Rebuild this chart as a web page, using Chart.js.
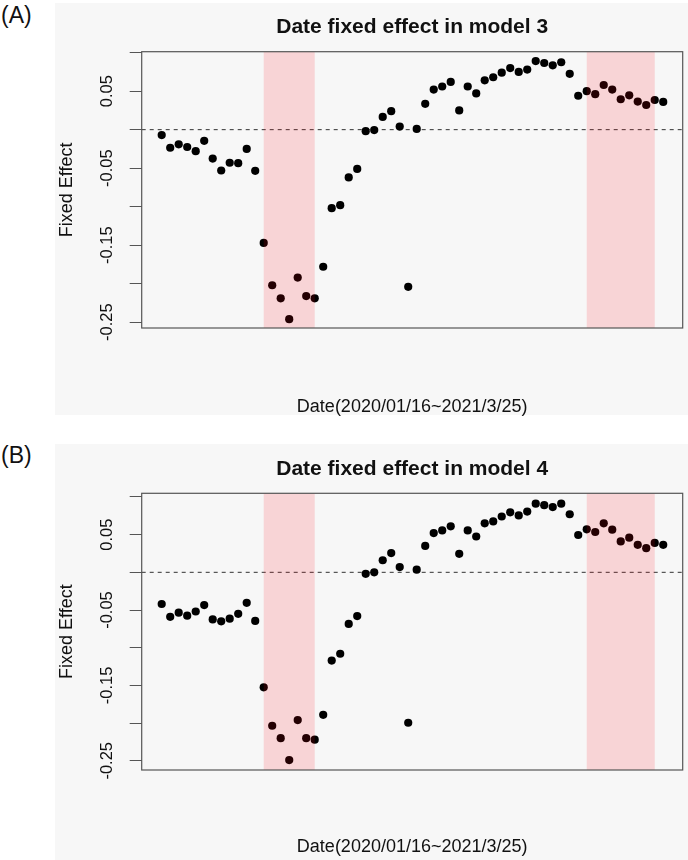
<!DOCTYPE html>
<html>
<head>
<meta charset="utf-8">
<script src="https://cdn.jsdelivr.net/npm/chart.js@4"></script>
<style>
  body { margin:0; background:#fff; width:688px; height:860px; position:relative; overflow:hidden; font-family:"Liberation Sans", Arial, sans-serif; }
  .tag { position:absolute; left:1px; font-size:23px; line-height:26px; color:#111; }
  .panel { position:absolute; left:55px; width:633px; background:#f7f7f7; }
  canvas { position:absolute; left:55px; }
</style>
</head>
<body>
<div class="tag" style="top:2px">(A)</div>
<div class="tag" style="top:442px">(B)</div>
<div class="panel" style="top:3px;height:412px"></div>
<div class="panel" style="top:444px;height:416px"></div>
<canvas id="chartA" width="633" height="420" style="top:3px"></canvas>
<canvas id="chartB" width="633" height="416" style="top:444px"></canvas>
<script>
// weekly date fixed effects, 2020/01/16 ~ 2021/3/25 (60 points)
const model3Effect = [-0.007, -0.0235, -0.019, -0.0225, -0.028, -0.0145, -0.0375, -0.053, -0.043, -0.0435,
  -0.025, -0.0535, -0.147, -0.202, -0.219, -0.246, -0.192, -0.216, -0.219, -0.178,
  -0.102, -0.098, -0.062, -0.051, -0.002, -0.0005, 0.0165, 0.024, 0.004, -0.204,
  0.001, 0.0335, 0.052, 0.056, 0.062, 0.025, 0.056, 0.047, 0.064, 0.068,
  0.074, 0.080, 0.075, 0.078, 0.089, 0.0865, 0.0835, 0.0875, 0.0725, 0.044,
  0.050, 0.046, 0.058, 0.052, 0.0395, 0.0445, 0.0365, 0.032, 0.0385, 0.036];
const model4Effect = [-0.042, -0.059, -0.0535, -0.0575, -0.052, -0.0435, -0.0625, -0.065, -0.0615, -0.055,
  -0.0405, -0.0645, -0.1525, -0.2035, -0.22, -0.249, -0.196, -0.22, -0.222, -0.189,
  -0.117, -0.108, -0.0685, -0.058, -0.002, 0.0, 0.016, 0.0255, 0.007, -0.1995,
  0.0035, 0.035, 0.052, 0.0555, 0.061, 0.0245, 0.0555, 0.0475, 0.065, 0.0675,
  0.074, 0.0795, 0.0755, 0.0805, 0.091, 0.089, 0.0865, 0.091, 0.077, 0.0495,
  0.057, 0.0535, 0.065, 0.0565, 0.041, 0.046, 0.0365, 0.032, 0.039, 0.0365];
const shadeBands = [[12, 18], [50, 58]];          // in week index
const yTickValues = [-0.25, -0.2, -0.15, -0.1, -0.05, 0, 0.05, 0.1];
const yTickLabels = ['-0.25', '', '-0.15', '', '-0.05', '', '0.05', ''];
const xLabel = 'Date(2020/01/16~2021/3/25)';
const yLabel = 'Fixed Effect';

const FONT = "'Liberation Sans', Arial, sans-serif";

const panelDeco = {
  id: 'panelDeco',
  beforeDatasetsDraw(chart){
    const {ctx, chartArea:a, scales:{y}} = chart;
    const y0 = y.getPixelForValue(0);
    ctx.save();
    ctx.strokeStyle = '#333';
    ctx.lineWidth = 1;
    ctx.setLineDash([4, 4]);
    ctx.beginPath();
    ctx.moveTo(a.left, y0);
    ctx.lineTo(a.right, y0);
    ctx.stroke();
    ctx.restore();
  },
  afterDatasetsDraw(chart){
    const {ctx, chartArea:a, scales:{x}} = chart;
    ctx.save();
    ctx.fillStyle = 'rgba(255, 0, 12, 0.14)';
    shadeBands.forEach(b => {
      const x1 = x.getPixelForValue(b[0]);
      const x2 = x.getPixelForValue(b[1]);
      ctx.fillRect(x1, a.top, x2 - x1, a.bottom - a.top);
    });
    ctx.strokeStyle = '#555';
    ctx.lineWidth = 1.2;
    ctx.strokeRect(a.left, a.top, a.right - a.left, a.bottom - a.top);
    ctx.restore();
  }
};

function makePanel(id, title, values, yMin, yMax, lay){
  const pts = values.map((v, i) => ({x: i, y: v}));
  return new Chart(document.getElementById(id), {
    type: 'scatter',
    data: { datasets: [{ data: pts, backgroundColor: '#000', borderWidth: 0, pointRadius: 4.1, pointHoverRadius: 4.1 }] },
    options: {
      responsive: false,
      animation: false,
      layout: { padding: { left: 0, right: 5.3, top: 0, bottom: lay.padBottom } },
      plugins: {
        legend: { display: false },
        tooltip: { enabled: false },
        title: {
          display: true, text: title, fullSize: false, color: '#111',
          font: { family: FONT, size: 21, weight: 'bold', lineHeight: 1.2 },
          padding: { top: lay.titleTop, bottom: lay.titleBottom }
        }
      },
      scales: {
        x: {
          type: 'linear', min: -2.353, max: 61.29,
          grid: { display: false }, border: { display: false },
          ticks: { display: false },
          title: { display: true, text: xLabel, color: '#111', font: { family: FONT, size: 18, lineHeight: 1.2 }, padding: { top: 0, bottom: 0 } },
          afterFit: s => { s.height = lay.xHeight; }
        },
        y: {
          min: yMin, max: yMax,
          afterBuildTicks: s => { s.ticks = yTickValues.map(v => ({value: v})); },
          grid: { display: true, drawOnChartArea: false, drawTicks: true, tickLength: 12, color: '#555', lineWidth: 1 },
          border: { display: false },
          ticks: {
            autoSkip: false, minRotation: 90, maxRotation: 90, crossAlign: 'center', padding: 3.5,
            color: '#111', font: { family: FONT, size: 16.5 },
            callback: (v, i) => yTickLabels[i]
          },
          title: { display: true, text: yLabel, color: '#111', font: { family: FONT, size: 18, lineHeight: 1.2 }, padding: { top: 1.5, bottom: 0 } },
          afterFit: s => { s.width = 86.7; }
        }
      }
    },
    plugins: [panelDeco]
  });
}

makePanel('chartA', 'Date fixed effect in model 3', model3Effect, -0.2575, 0.1012,
  { titleTop: 11.9, titleBottom: 11.6, xHeight: 89.5, padBottom: 5.5 });
makePanel('chartB', 'Date fixed effect in model 4', model4Effect, -0.2622, 0.1048,
  { titleTop: 12.9, titleBottom: 11.2, xHeight: 87.8, padBottom: 2.2 });
</script>
</body>
</html>
